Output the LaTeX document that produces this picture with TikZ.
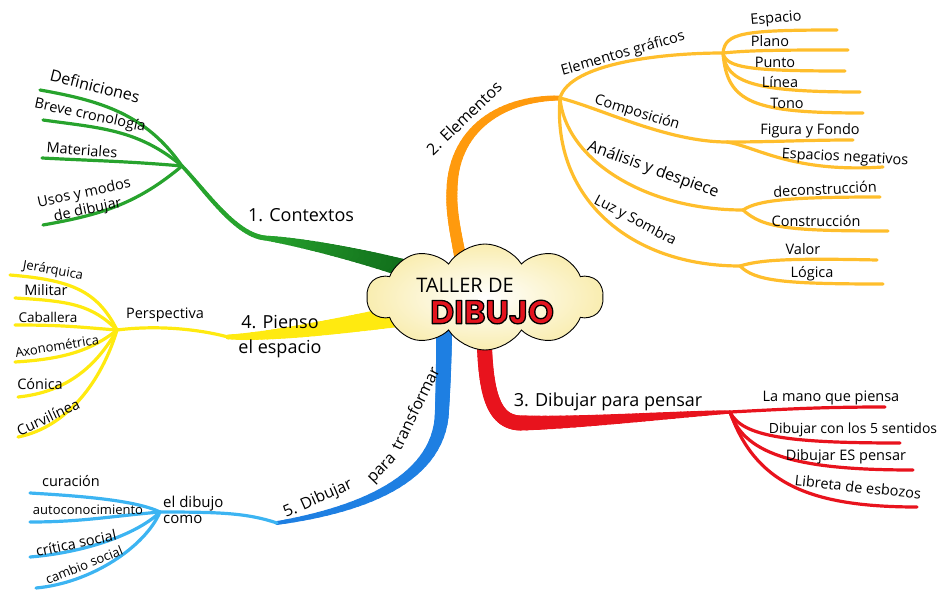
\documentclass[tikz,border=0pt]{standalone}
\usepackage{fontspec}
\usetikzlibrary{shapes.symbols,backgrounds}
\newfontfamily\handfont{Open Sans}
\newfontfamily\titlefont{Poppins}
\definecolor{cloudfill}{HTML}{F9EDB0}
\definecolor{dibred}{HTML}{E3141E}
\definecolor{ctxgreen}{HTML}{27A32D}
\definecolor{ctxdark}{HTML}{0F6A1A}
\definecolor{elemorange}{HTML}{FF9A0D}
\definecolor{elemgold}{HTML}{FFBE2C}
\definecolor{pensred}{HTML}{E8131D}
\definecolor{espyellow}{HTML}{FFEA10}
\definecolor{transblue}{HTML}{1E7FE2}
\definecolor{translight}{HTML}{3CB4F2}
% red letters with a black rim
\newcommand\rimtext[1]{\special{pdf:literal direct 1 j 1.3 w 0 0 0 RG 2 Tr}#1\special{pdf:literal direct 0 Tr}}
% tapered stroke: colour from, colour to, width from, width to, start, rest of curve
\newcommand\taper[6]{%
  \foreach \k in {0,...,29}{%
    \pgfmathsetmacro\tw{#3+(#4-#3)*\k/29}%
    \pgfmathtruncatemacro\tc{100*\k/29}%
    \path #5 #6 coordinate[pos=\k/30] (ta) coordinate[pos=(\k+1)/30] (tb);
    \draw[line cap=round,line width=\tw pt,draw=#2!\tc!#1] (ta) -- (tb);
  }}

\begin{document}
\begin{tikzpicture}[
x=1pt,y=1pt,
leaf/.style={font=\handfont\fontsize{14.5}{17}\selectfont,inner sep=0pt,align=center},
branchtext/.style={font=\handfont\fontsize{18}{25}\selectfont,inner sep=0pt,align=center},
twig/.style={line width=3.2pt,line cap=round}
]
\useasboundingbox (0,0) rectangle (952,-594);

% centre
\node[cloud,cloud puffs=10,cloud puff arc=115,aspect=2.2,draw,line width=0.9pt,
  inner color=white,outer color=cloudfill,
  minimum width=236pt,minimum height=106pt] (taller) at (485,-297) {};
\node[font=\handfont\fontsize{20}{22}\selectfont] (tallerde) at (465,-285) {TALLER DE};
\node[font=\titlefont\bfseries\fontsize{33}{35}\selectfont] (dibujo) at (492,-312)
  {\textcolor{dibred}{\rimtext{DIBUJO}}};

% hubs and joints
\coordinate (gS) at (410,-270);
\coordinate (g2) at (265,-238);
\coordinate (h1) at (182,-166);
\coordinate (oS) at (464,-285);
\coordinate (o1) at (452,-190);
\coordinate (h2) at (560,-98);
\coordinate (rS) at (484,-330);
\coordinate (r2) at (520,-423);
\coordinate (h3) at (730,-412);
\coordinate (yS) at (400,-316);
\coordinate (y3) at (228,-337);
\coordinate (h4) at (117,-330);
\coordinate (bS) at (444,-330);
\coordinate (b1) at (442,-410);
\coordinate (b3) at (277,-523);
\coordinate (h5) at (160,-512);

% main branches, behind the cloud
\begin{scope}[on background layer]
\taper{ctxdark}{ctxgreen}{18}{5}{(gS)}{.. controls (360,-255) and (300,-242) .. (g2)}
\taper{ctxgreen}{ctxgreen}{5}{3.6}{(g2)}{.. controls (235,-235) and (205,-190) .. (h1)}
\taper{elemorange}{elemorange}{12}{11}{(oS)}{.. controls (462,-255) and (450,-220) .. (o1)}
\taper{elemorange}{elemorange}{11}{5}{(o1)}{.. controls (453,-130) and (500,-98) .. (h2)}
\taper{pensred}{pensred}{15}{15}{(rS)}{.. controls (485,-385) and (490,-422) .. (r2)}
\taper{pensred}{pensred}{15}{3.5}{(r2)}{.. controls (580,-423) and (680,-414) .. (h3)}
\taper{espyellow}{espyellow}{21}{5}{(yS)}{.. controls (340,-326) and (270,-337) .. (y3)}
\taper{transblue}{transblue}{16}{14}{(bS)}{.. controls (444,-360) and (443,-390) .. (b1)}
\taper{transblue}{transblue}{14}{4}{(b1)}{.. controls (441,-480) and (360,-510) .. (b3)}
\end{scope}

% 1. Contextos
\coordinate (defE) at (40,-90);
\coordinate (breE) at (43,-120);
\coordinate (matE) at (42,-158);
\coordinate (usoE) at (43,-225);
\draw[twig,ctxgreen] (h1) to[out=125,in=-10] (defE);
\draw[twig,ctxgreen] (h1) to[out=140,in=-8] (breE);
\draw[twig,ctxgreen] (h1) to[out=175,in=-3] (matE);
\draw[twig,ctxgreen] (h1) to[out=-140,in=10] (usoE);
\node[leaf,rotate=-14,font=\handfont\fontsize{16}{18}\selectfont] (def) at (95,-86) {Definiciones};
\node[leaf,rotate=-12] (bre) at (90,-116) {Breve cronología};
\node[leaf,rotate=-4] (mat) at (82,-150) {Materiales};
\node[leaf,rotate=12] (uso) at (86,-202) {Usos y modos\\de dibujar};
\node[branchtext] (ctx) at (301,-215) {1. Contextos};

% 2. Elementos
\node[branchtext,font=\handfont\fontsize{16}{18}\selectfont,rotate=44] (elem) at (464,-118) {2. Elementos};
\coordinate (eg) at (723,-53);
\coordinate (cp) at (727,-142);
\coordinate (ad) at (743,-210);
\coordinate (ls) at (740,-266);
\draw[twig,elemgold] (h2) .. controls +(10,35) and +(-60,0) .. (eg);
\draw[twig,elemgold] (h2) .. controls +(40,-10) and +(-60,0) .. (cp);
\draw[twig,elemgold] (h2) .. controls +(5,-60) and +(-100,0) .. (ad);
\draw[twig,elemgold] (h2) .. controls +(-8,-100) and +(-110,0) .. (ls);
\node[leaf,rotate=16] (egraf) at (623,-54) {Elementos gráficos};
\node[leaf,rotate=-17] (comp) at (637,-113) {Composición};
\node[leaf,rotate=-20,font=\handfont\fontsize{16}{18}\selectfont] (anal) at (653,-170) {Análisis y despiece};
\node[leaf,rotate=-28] (luz) at (635,-221) {Luz y Sombra};

\coordinate (espE) at (837,-30);
\coordinate (plaE) at (848,-50);
\coordinate (punE) at (845,-71);
\coordinate (linE) at (860,-92);
\coordinate (tonE) at (863,-113);
\draw[twig,elemgold] (eg) .. controls +(2,20) and +(-95,0) .. (espE);
\draw[twig,elemgold] (eg) .. controls +(30,3) and +(-60,0) .. (plaE);
\draw[twig,elemgold] (eg) .. controls +(3,-15) and +(-95,0) .. (punE);
\draw[twig,elemgold] (eg) .. controls +(3,-30) and +(-105,0) .. (linE);
\draw[twig,elemgold] (eg) .. controls +(4,-50) and +(-110,0) .. (tonE);
\node[leaf,rotate=5] (esp) at (776,-19) {Espacio};
\node[leaf] (pla) at (770,-41) {Plano};
\node[leaf] (pun) at (775,-62) {Punto};
\node[leaf] (lin) at (780,-82) {Línea};
\node[leaf] (ton) at (787,-103) {Tono};

\coordinate (figE) at (853,-140);
\coordinate (negE) at (883,-167);
\draw[twig,elemgold] (cp) to[out=0,in=180] (figE);
\draw[twig,elemgold] (cp) .. controls +(30,-5) and +(-90,-6) .. (negE);
\node[leaf] (fig) at (810,-131) {Figura y Fondo};
\node[leaf,rotate=-3] (neg) at (845,-158) {Espacios negativos};

\coordinate (decE) at (880,-197);
\coordinate (ctrE) at (888,-231);
\draw[twig,elemgold] (ad) .. controls +(15,10) and +(-90,0) .. (decE);
\draw[twig,elemgold] (ad) .. controls +(20,-18) and +(-100,0) .. (ctrE);
\node[leaf,rotate=3] (dec) at (825,-189) {deconstrucción};
\node[leaf] (ctr) at (816,-221) {Construcción};

\coordinate (valE) at (877,-260);
\coordinate (logE) at (883,-284);
\draw[twig,elemgold] (ls) .. controls +(20,6) and +(-90,2) .. (valE);
\draw[twig,elemgold] (ls) .. controls +(15,-15) and +(-100,0) .. (logE);
\node[leaf] (val) at (803,-249) {Valor};
\node[leaf] (log) at (812,-274) {Lógica};

% 3. Dibujar para pensar
\coordinate (manE) at (885,-407);
\coordinate (senE) at (900,-443);
\coordinate (pensE) at (913,-470);
\coordinate (libE) at (917,-507);
\draw[twig,pensred] (h3) to[out=3,in=180] (manE);
\draw[twig,pensred] (h3) .. controls +(12,-25) and +(-110,0) .. (senE);
\draw[twig,pensred] (h3) .. controls +(15,-45) and +(-110,0) .. (pensE);
\draw[twig,pensred] (h3) .. controls +(25,-70) and +(-110,0) .. (libE);
\node[branchtext] (pensar) at (608,-402) {3. Dibujar para pensar};
\node[leaf] (mano) at (831,-398) {La mano que piensa};
\node[leaf,font=\handfont\fontsize{14}{16}\selectfont] (sentidos) at (853,-430) {Dibujar con los 5 sentidos};
\node[leaf] (espens) at (846,-457) {Dibujar ES pensar};
\node[leaf,rotate=-6] (libreta) at (858,-487) {Libreta de esbozos};

% 4. Pienso el espacio
\coordinate (jerE) at (10,-275);
\coordinate (milE) at (15,-298);
\coordinate (cabE) at (15,-325);
\coordinate (axoE) at (15,-362);
\coordinate (conE) at (18,-397);
\coordinate (curvE) at (18,-437);
\draw[twig,espyellow] (y3) .. controls +(-30,8) and +(40,5) .. (h4);
\draw[twig,espyellow] (h4) .. controls +(-20,40) and +(60,-5) .. (jerE);
\draw[twig,espyellow] (h4) .. controls +(-25,25) and +(55,-3) .. (milE);
\draw[twig,espyellow] (h4) .. controls +(-40,3) and +(50,0) .. (cabE);
\draw[twig,espyellow] (h4) .. controls +(-25,-20) and +(50,3) .. (axoE);
\draw[twig,espyellow] (h4) .. controls +(-20,-35) and +(50,5) .. (conE);
\draw[twig,espyellow] (h4) .. controls +(-15,-50) and +(50,10) .. (curvE);
\node[branchtext] (pienso) at (280,-337) {4. Pienso\\el espacio};
\node[leaf] (persp) at (165,-315) {Perspectiva};
\node[leaf,rotate=-10,font=\handfont\fontsize{13}{15}\selectfont] (jer) at (53,-271) {Jerárquica};
\node[leaf] (mil) at (46,-290) {Militar};
\node[leaf,font=\handfont\fontsize{13.5}{15}\selectfont] (cab) at (48,-317) {Caballera};
\node[leaf,rotate=9,font=\handfont\fontsize{13}{15}\selectfont] (axo) at (57,-346) {Axonométrica};
\node[leaf] (con) at (40,-384) {Cónica};
\node[leaf,rotate=25] (curv) at (48,-417) {Curvilínea};

% 5. Dibujar para transformar
\node[branchtext,font=\handfont\fontsize{16}{18}\selectfont,rotate=24] (dib5) at (318,-499) {5. Dibujar};
\node[branchtext,font=\handfont\fontsize{16}{18}\selectfont,rotate=46] (para5) at (383,-470) {para};
\node[branchtext,font=\handfont\fontsize{16}{18}\selectfont,rotate=64] (transf5) at (415,-408) {transformar};
\coordinate (curaE) at (30,-493);
\coordinate (autoE) at (30,-522);
\coordinate (critE) at (30,-557);
\coordinate (cambE) at (36,-588);
\draw[twig,translight] (b3) .. controls +(-30,10) and +(60,0) .. (h5);
\draw[twig,translight] (h5) .. controls +(-25,12) and +(50,-3) .. (curaE);
\draw[twig,translight] (h5) to[out=185,in=0] (autoE);
\draw[twig,translight] (h5) .. controls +(-20,-20) and +(60,5) .. (critE);
\draw[twig,translight] (h5) .. controls +(-15,-35) and +(55,5) .. (cambE);
\node[leaf,anchor=west,align=left,font=\handfont\fontsize{15}{16}\selectfont] (eldibujo) at (163,-510) {el dibujo\\como};
\node[leaf] (cura) at (71,-481) {curación};
\node[leaf,font=\handfont\fontsize{13}{15}\selectfont] (auto) at (88,-510) {autoconocimiento};
\node[leaf,rotate=12] (crit) at (76,-543) {crítica social};
\node[leaf,rotate=22,font=\handfont\fontsize{13}{15}\selectfont] (camb) at (84,-565) {cambio social};
\end{tikzpicture}
\end{document}
